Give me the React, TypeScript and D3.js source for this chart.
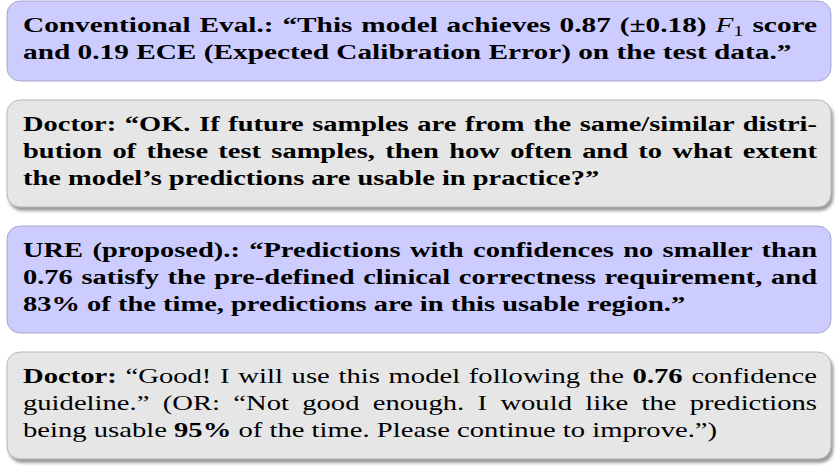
import React, { useEffect, useRef } from 'react';
import * as d3 from 'd3';

// a line is a list of runs: [text, style] where style: b = bold, n = normal, i = italic, s = subscript
type Run = [string, string];

const box1Lines: Run[][] = [
  [['Conventional Eval.: \u201cThis model achieves 0.87 (\u00b10.18) ', 'b'], ['F', 'i'], ['1', 's'], [' score', 'b']],
  [['and 0.19 ECE (Expected Calibration Error) on the test data.\u201d', 'b']],
];

const box2Lines: Run[][] = [
  [['Doctor: \u201cOK. If future samples are from the same/similar distri-', 'b']],
  [['bution of these test samples, then how often and to what extent', 'b']],
  [['the model\u2019s predictions are usable in practice?\u201d', 'b']],
];

const box3Lines: Run[][] = [
  [['URE (proposed).: \u201cPredictions with confidences no smaller than', 'b']],
  [['0.76 satisfy the pre-defined clinical correctness requirement, and', 'b']],
  [['83% of the time, predictions are in this usable region.\u201d', 'b']],
];

const box4Lines: Run[][] = [
  [['Doctor:', 'b'], [' \u201cGood! I will use this model following the ', 'n'], ['0.76', 'b'], [' confidence', 'n']],
  [['guideline.\u201d (OR: \u201cNot good enough. I would like the predictions', 'n']],
  [['being usable ', 'n'], ['95%', 'b'], [' of the time. Please continue to improve.\u201d)', 'n']],
];

const boxes = [box1Lines, box2Lines, box3Lines, box4Lines];
const boxKinds = ['blue', 'gray', 'blue', 'gray'];
// how many characters of each box's last line sit left of the figure's middle (x = 420)
const lastLineHalf = [29, 32, 31, 31];

const App = () => {
  const svgRef = useRef<SVGSVGElement>(null);

  const width = 837;
  const height = 466;

  useEffect(() => {
    const svg = d3.select(svgRef.current);
    svg.selectAll('*').remove();

    const left = 7;
    const right = 831;
    const textLeft = 23;
    const textRight = 817;
    const mid = 420;
    const target = textRight - textLeft;
    const lineH = 27;
    const pad = 26;
    const gap = 19;
    const firstBase = 31;
    const fontSize = 20;

    const defs = svg.append('defs');
    const f = defs.append('filter').attr('id', 'shadow')
      .attr('x', '-5%').attr('y', '-10%').attr('width', '110%').attr('height', '130%');
    f.append('feDropShadow')
      .attr('dx', 2).attr('dy', 3.5).attr('stdDeviation', 1.6)
      .attr('flood-color', '#444').attr('flood-opacity', 0.55);

    const spacesIn = (runs: Run[]) => (runs.map(r => r[0]).join('').match(/ /g) || []).length;

    let top = 1;
    boxes.forEach((lines, bi) => {
      const h = lines.length * lineH + pad;
      const blue = boxKinds[bi] === 'blue';
      const g = svg.append('g');
      g.append('rect')
        .attr('x', left).attr('y', top)
        .attr('width', right - left).attr('height', h)
        .attr('rx', 13).attr('ry', 13)
        .attr('fill', blue ? '#ccccff' : '#e6e6e6')
        .attr('stroke', blue ? '#9a9ac4' : '#a8a8a8')
        .attr('stroke-width', 0.8)
        .attr('filter', blue ? null : 'url(#shadow)');

      const texts: any[] = [];
      lines.forEach((runs, li) => {
        const t = g.append('text')
          .attr('y', top + firstBase + li * lineH)
          .attr('font-family', 'Liberation Serif, serif')
          .attr('font-size', fontSize)
          .attr('fill', '#000');
        let shifted = false;
        runs.forEach(([txt, st]) => {
          const sp = t.append('tspan').text(txt);
          if (st === 'b') sp.attr('font-weight', 'bold');
          if (st === 'n') sp.attr('font-weight', 'normal');
          if (st === 'i') sp.attr('font-style', 'italic').attr('font-weight', 'normal');
          if (st === 's') {
            sp.attr('font-size', fontSize * 0.7).attr('dy', 4).attr('font-weight', 'normal');
            shifted = true;
          } else if (shifted) {
            sp.attr('dy', -4);
            shifted = false;
          }
        });
        texts.push(t);
      });

      // horizontal stretch of the glyphs (the original uses an extended face),
      // aimed so the last, ragged line reaches the middle at the same letter as the original,
      // but never so wide that the justified lines lose their word spaces
      const last = texts[texts.length - 1].node() as SVGTextElement;
      const half = last.getSubStringLength(0, lastLineHalf[bi]);
      let sx = (mid - textLeft) / half;
      lines.forEach((runs, li) => {
        if (li === lines.length - 1) return;
        const len = (texts[li].node() as SVGTextElement).getComputedTextLength();
        sx = Math.min(sx, (target - spacesIn(runs) * 1.5) / len);
      });
      sx = Math.max(1, sx);

      texts.forEach((t, li) => {
        t.attr('x', textLeft / sx).attr('transform', `scale(${sx},1)`);
        if (li < lines.length - 1) {
          const len = (t.node() as SVGTextElement).getComputedTextLength();
          const n = spacesIn(lines[li]);
          if (n > 0) t.attr('word-spacing', (target / sx - len) / n);
        }
      });

      top += h + gap;
    });
  }, []);

  return (
    <svg
      ref={svgRef}
      width={width}
      height={height}
      style={{ position: 'absolute', left: 0, top: 0, display: 'block', background: '#fff' }}
    />
  );
};

export default App;
